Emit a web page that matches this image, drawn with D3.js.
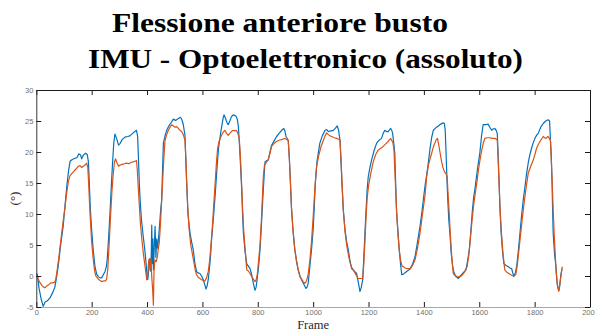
<!DOCTYPE html>
<html>
<head>
<meta charset="utf-8">
<script src="https://cdn.jsdelivr.net/npm/d3@7"></script>
<style>
  html, body { margin: 0; padding: 0; background: #fff; }
  svg { display: block; }
</style>
</head>
<body>
<svg id="chart" width="595" height="335"></svg>
<script>
// Titles and axis labels
const titleLines = ["Flessione anteriore busto", "IMU - Optoelettronico (assoluto)"];
const xLabel = "Frame";
const yLabel = "(°)";

// Tick values
const xTicks = [0, 200, 400, 600, 800, 1000, 1200, 1400, 1600, 1800, 2000];
const yTicks = [-5, 0, 5, 10, 15, 20, 25, 30];

// IMU trunk flexion angle, [frame, degrees]
const imuSeries = [
  [0,0.4],[4,0.2],[10,-2],[18,-3.8],[25,-4.9],[32,-4.2],[40,-4],[50,-3.5],[60,-2.6],[67,-1.8],
  [72,-0.5],[79,1.5],[88,5],[97,8],[104,11.5],[110,14.4],[116,16.8],[122,18.5],[130,18.8],[140,19.0],
  [147,19.1],[154,19.7],[160,19.5],[164,18.9],[170,19.5],[178,19.8],[184,19.6],[188,18.5],[191,15.5],[195,11],
  [200,7.4],[206,4],[212,1.5],[218,0.3],[224,-0.1],[230,-0.3],[236,-0.3],[242,0.2],[248,0.7],[253,1.5],
  [256,2.6],[261,6],[266,10],[271,14.5],[276,18.7],[280,21.5],[284,22.9],[290,22.2],[297,21.1],[303,21.4],
  [310,22.0],[320,22.4],[330,22.5],[338,22.6],[348,23],[356,23.3],[362,23.5],[366,22.5],[369,19],[372,15],
  [375,12.3],[380,9],[386,6.5],[392,4.2],[397,1.8],[401,-0.6],[403,-0.5],[407,1.5],[410,2.8],[413,0.8],
  [415,3],[417,8.2],[419,2],[421,6],[423,1],[426,4.5],[429,8],[432,3],[435,6],[438,4.5],
  [441,5.8],[445,8],[449,10.5],[453,12.3],[456,17],[459,21.4],[465,22.6],[471,23.5],[480,24.3],[488,24.8],
  [495,25.3],[503,25.1],[513,25.4],[521,25.6],[526,25.2],[531,24.4],[537,22.7],[540,19],[543,15],[548,10],
  [555,7],[561,5.5],[567,4.2],[573,2],[579,0.7],[585,0.5],[591,0.4],[597,0],[603,-0.6],[608,-1.3],
  [613,-2.1],[617,-1.6],[621,-0.6],[625,1],[629,3],[633,5.8],[640,9.5],[646,13],[652,17],[658,20.5],
  [664,22.5],[670,24.2],[675,25.5],[678,26],[683,25.5],[688,24.8],[693,24.4],[699,25],[705,25.7],[711,26],
  [716,25.9],[721,25.8],[726,25.3],[730,24.1],[734,21],[738,17.5],[742,13.9],[745,10],[748,6.9],[754,4],
  [760,2],[766,1.6],[772,1.2],[778,0.2],[784,-1.2],[790,-2.3],[794,-1.8],[798,-0.4],[803,1.5],[808,4.2],
  [813,8],[818,12.3],[822,15.5],[826,18.4],[832,18.6],[838,18.7],[844,20],[850,21.1],[859,21.8],[868,22.5],
  [877,23],[886,23.5],[894,23.8],[898,23.4],[902,22.5],[910,21.9],[914,19],[918,15],[922,10.6],[928,7],
  [934,4.2],[940,2.3],[946,1],[952,0.1],[958,-0.6],[966,-1.3],[974,-2],[978,-1.8],[982,-1.2],[988,1.5],
  [994,4.2],[1000,7.5],[1004,11],[1008,15],[1014,18.5],[1024,21.4],[1033,22.6],[1043,23.5],[1049,23.6],[1055,23.3],
  [1064,23.4],[1073,23.5],[1080,23.8],[1087,24.2],[1092,23.5],[1097,21.9],[1101,18],[1105,14],[1109,10.6],[1115,7.5],
  [1121,5.5],[1127,4.2],[1133,2.5],[1139,1.2],[1148,0.8],[1157,0.4],[1163,-1],[1169,-2.5],[1174,-1.8],[1179,-0.6],
  [1183,3],[1187,6.9],[1191,10.5],[1195,13.9],[1199,16],[1205,17.5],[1211,18.7],[1220,20.2],[1229,21.4],[1238,21.9],
  [1247,22.2],[1253,23],[1259,23.5],[1265,23.3],[1271,23.3],[1276,23.6],[1280,23.8],[1284,23.5],[1287,23],[1291,21.5],
  [1295,19.8],[1298,15],[1301,10.6],[1305,8],[1311,4.2],[1316,1.8],[1320,0.2],[1326,0.3],[1331,0.5],[1340,0.8],
  [1349,1.1],[1358,1.8],[1368,3.1],[1377,5.5],[1386,8],[1392,10],[1398,12.3],[1404,14.5],[1410,16.3],[1416,18.2],
  [1422,20.5],[1428,22.3],[1434,23.5],[1443,23.9],[1452,24.2],[1461,24.5],[1470,24.7],[1474,24.6],[1477,23.5],[1480,20],
  [1483,16],[1486,12.5],[1490,9],[1494,6.9],[1499,3.5],[1504,1.5],[1508,0.7],[1512,0.2],[1518,-0.1],[1524,-0.4],
  [1532,0],[1540,0.4],[1546,0.7],[1552,1],[1558,2.5],[1564,4.2],[1570,7.5],[1575,10.5],[1580,12.8],[1584,13.9],
  [1590,16],[1596,18],[1602,19.8],[1608,22.5],[1614,24.4],[1623,24.4],[1632,24.5],[1638,24],[1645,23.5],[1650,23.7],
  [1656,23.8],[1661,23.5],[1665,23],[1668,20],[1671,16],[1675,10.6],[1679,7],[1684,4],[1689,2],[1697,1.7],
  [1705,1.5],[1711,1.3],[1717,1.2],[1721,0.5],[1725,-0.1],[1730,0.5],[1735,1.5],[1741,4],[1747,6.9],[1753,9.8],
  [1759,12.3],[1765,14.4],[1771,16.5],[1777,18.3],[1783,19.6],[1789,20.6],[1795,21.5],[1801,22.2],[1807,22.7],[1813,23],
  [1822,24],[1831,24.6],[1840,25],[1849,25.2],[1854,25],[1857,22],[1860,19.5],[1863,15],[1865,10.6],[1867,6.9],
  [1872,3.5],[1877,1.5],[1880,-0.3],[1882,-1.5],[1885,-2],[1888,-2.3],[1891,-1.5],[1893,-0.6],[1896,0.5],[1899,1.2]
];

// Optoelectronic reference angle, [frame, degrees]
const optoSeries = [
  [0,0],[5,-0.3],[12,-1],[20,-1.5],[26,-1.8],[31,-1.9],[38,-1.6],[45,-1.4],[52,-1.1],[60,-1.1],
  [66,-1],[70,-0.6],[74,0.5],[80,2.5],[86,4.7],[92,7],[98,9.2],[104,11.2],[110,13.5],[116,15.3],
  [122,16.2],[128,16.5],[134,16.8],[140,17.1],[146,17.4],[152,17.7],[158,17.8],[164,17.5],[170,17.7],[176,17.9],
  [182,18.2],[186,17.5],[189,15],[192,12],[196,8.5],[200,5.5],[205,3],[210,1],[215,0],[222,-0.4],
  [229,-0.7],[236,-0.9],[243,-0.8],[250,-0.8],[254,-0.5],[258,1],[263,5],[268,9.5],[273,13.5],[278,16.5],
  [282,18.3],[286,18.9],[291,18.3],[297,17.7],[303,17.9],[310,18.0],[318,18.1],[326,18.2],[334,18.1],[342,18.3],
  [350,18.4],[356,18.5],[362,18.6],[365,17],[368,14.5],[372,11.5],[376,8.5],[381,6],[387,3.5],[393,1.5],
  [399,-0.6],[403,0.5],[406,2.6],[408,2.6],[411,1],[414,2.8],[417,-0.1],[420,-2],[423,-4.7],[425,0.5],
  [427,2],[429,2.6],[433,2.3],[437,3],[441,4.5],[444,5.3],[448,8],[452,11.5],[456,15],[460,18.5],
  [465,21.9],[471,22.8],[477,23.5],[483,24],[489,24.4],[495,24.2],[501,24],[507,24.1],[513,23.8],[519,23.5],
  [525,23.3],[531,22.8],[537,21.9],[540,19],[543,15.5],[547,11],[552,7.5],[558,5],[564,3.5],[570,2],
  [575,0.8],[579,0.2],[585,-0.2],[591,-0.4],[597,-0.6],[603,-0.7],[609,-0.8],[615,-0.3],[621,0.7],[626,2.5],
  [631,5],[636,8],[641,11.5],[646,15],[651,18.5],[655,20.6],[660,21.7],[669,22.7],[675,23.2],[681,23.5],
  [687,23],[693,22.7],[699,23],[705,23.3],[711,23.5],[717,23.4],[723,23.5],[728,23],[733,22.2],[737,19.5],
  [741,15.5],[745,11],[749,7.5],[754,4.5],[760,1],[766,0.8],[772,0.4],[778,-0.1],[784,-0.5],[790,-0.9],
  [794,-0.6],[798,0.2],[803,2.5],[808,5],[813,9],[817,13],[820,16],[824,17.8],[832,18.4],[838,18.8],
  [844,19.8],[850,20.9],[859,21.4],[868,21.7],[877,21.9],[886,22],[892,22.1],[898,22.2],[904,22],[910,21.9],
  [914,19],[918,15],[922,11],[927,7.5],[933,4.5],[940,2.5],[946,1],[952,-0.1],[958,-0.5],[964,-0.9],
  [970,-1.2],[976,-0.8],[982,0.2],[988,2.5],[994,5.5],[1000,9.5],[1006,14],[1012,17.5],[1019,19.2],[1028,20.8],
  [1037,21.9],[1043,22.6],[1049,23.1],[1055,22.8],[1061,22.6],[1067,22.5],[1076,22.3],[1085,22.2],[1091,22.1],[1097,21.9],
  [1101,18.5],[1105,14.5],[1109,10.6],[1115,7.2],[1121,5],[1127,3.5],[1133,2.2],[1139,1.4],[1145,1],[1151,0.5],
  [1157,0],[1163,-0.4],[1171,-0.4],[1179,-0.4],[1183,2],[1187,5.5],[1191,9.5],[1195,12.5],[1200,14.5],[1208,16.5],
  [1217,18.4],[1226,19.6],[1235,20.3],[1244,20.6],[1253,20.9],[1262,21.3],[1271,21.7],[1276,22],[1280,22.2],[1284,21.8],
  [1287,21.7],[1290,21],[1292,20.3],[1296,16],[1299,13],[1302,10],[1306,7],[1311,4.2],[1316,2.5],[1321,1.6],
  [1326,1.5],[1332,1.3],[1338,1.2],[1345,1.2],[1352,1.2],[1360,1.8],[1368,2.6],[1377,4.5],[1386,6.9],[1392,9],
  [1398,11],[1404,13],[1410,16],[1416,17.8],[1422,18.8],[1428,19.8],[1434,20.8],[1440,21.5],[1445,22],[1449,22.2],
  [1452,21.5],[1455,20.8],[1458,20],[1463,18.7],[1468,17.6],[1472,17.1],[1476,16.7],[1480,16.5],[1484,16],[1487,13.5],
  [1491,10.6],[1495,7],[1500,3.5],[1506,0.4],[1512,0.1],[1518,-0.2],[1527,-0.1],[1536,0],[1546,0.6],[1556,1.5],
  [1562,3.2],[1568,6],[1574,9],[1580,11.5],[1586,13.5],[1592,15.3],[1597,17.1],[1603,18.8],[1609,20.3],[1615,21.5],
  [1620,22.2],[1629,22.3],[1638,22.3],[1647,22.2],[1656,22.2],[1661,22.1],[1665,21.9],[1668,19],[1671,15.5],[1675,11],
  [1680,7],[1686,3.5],[1692,1],[1700,0.6],[1711,0.3],[1717,0.1],[1723,0],[1732,0.2],[1738,2],[1744,4.5],
  [1750,7],[1756,9.5],[1762,11.8],[1770,14.5],[1777,16.6],[1786,17.7],[1795,18.7],[1801,19.6],[1807,20.6],[1814,21.3],
  [1822,21.9],[1831,22.5],[1836,22.3],[1841,22.2],[1845,22.4],[1849,22.5],[1853,22.2],[1857,21.9],[1860,19],[1864,14.5],
  [1867,10.6],[1871,6.5],[1875,3],[1878,0.5],[1880,-0.6],[1884,-1.8],[1887,-2.5],[1889,-2],[1891,-1.2],[1895,0],
  [1900,1.5]
];

const svg = d3.select("#chart");
const plotLeft = 36.3, plotRight = 590, plotTop = 90, plotBottom = 307;

const x = d3.scaleLinear().domain([0, 2000]).range([plotLeft, plotRight]);
const y = d3.scaleLinear().domain([-5, 30]).range([plotBottom, plotTop]);

// Title, two lines of bold serif
const titleFont = "'Liberation Serif', 'Times New Roman', serif";
svg.append("text")
  .attr("x", 112).attr("y", 31.5)
  .attr("font-family", titleFont).attr("font-weight", "bold").attr("font-size", 28)
  .attr("textLength", 336).attr("lengthAdjust", "spacingAndGlyphs")
  .attr("fill", "#000")
  .text(titleLines[0]);
svg.append("text")
  .attr("x", 88).attr("y", 68)
  .attr("font-family", titleFont).attr("font-weight", "bold").attr("font-size", 28)
  .attr("textLength", 435).attr("lengthAdjust", "spacingAndGlyphs")
  .attr("fill", "#000")
  .text(titleLines[1]);

// Data lines
const line = d3.line().x(d => x(d[0])).y(d => y(d[1]));

svg.append("path")
  .datum(imuSeries)
  .attr("d", line)
  .attr("fill", "none")
  .attr("stroke", "#0072BD")
  .attr("stroke-width", 1.2)
  .attr("stroke-linejoin", "round");

svg.append("path")
  .datum(optoSeries)
  .attr("d", line)
  .attr("fill", "none")
  .attr("stroke", "#D95319")
  .attr("stroke-width", 1.2)
  .attr("stroke-linejoin", "round");

// Axes with inward ticks on all four sides
const tickFont = "'Liberation Sans', Arial, sans-serif";
function styleAxis(g, domainColor) {
  g.select(".domain").attr("stroke", domainColor).attr("stroke-width", 1);
  g.selectAll(".tick line").attr("stroke", "#1a1a1a").attr("stroke-width", 1);
  g.selectAll(".tick text")
    .attr("fill", "#707070")
    .attr("font-family", tickFont)
    .attr("font-size", 7.5);
}

svg.append("g")
  .attr("transform", `translate(0,${plotBottom})`)
  .call(d3.axisBottom(x).tickValues(xTicks).tickSize(-5).tickSizeOuter(0).tickPadding(3).tickFormat(d3.format("d")))
  .call(g => styleAxis(g, "#a8a8a8"));

svg.append("g")
  .attr("transform", `translate(0,${plotTop})`)
  .call(d3.axisTop(x).tickValues(xTicks).tickSize(-5).tickSizeOuter(0).tickFormat(""))
  .call(g => styleAxis(g, "#1a1a1a"));

svg.append("g")
  .attr("transform", `translate(${plotLeft},0)`)
  .call(d3.axisLeft(y).tickValues(yTicks).tickSize(-5).tickSizeOuter(0).tickPadding(3).tickFormat(d => d < 0 ? "-" + Math.abs(d) : d))
  .call(g => styleAxis(g, "#3a3a3a"));

svg.append("g")
  .attr("transform", `translate(${plotRight},0)`)
  .call(d3.axisRight(y).tickValues(yTicks).tickSize(-5).tickSizeOuter(0).tickFormat(""))
  .call(g => styleAxis(g, "#1a1a1a"));

// Axis labels
const labelFont = "'Liberation Serif', 'Times New Roman', serif";
svg.append("text")
  .attr("x", (plotLeft + plotRight) / 2).attr("y", 329)
  .attr("text-anchor", "middle")
  .attr("font-family", labelFont).attr("font-size", 12.5)
  .attr("fill", "#262626")
  .text(xLabel);

svg.append("text")
  .attr("transform", `translate(19,${(plotTop + plotBottom) / 2}) rotate(-90)`)
  .attr("text-anchor", "middle")
  .attr("font-family", labelFont).attr("font-size", 13)
  .attr("fill", "#262626")
  .text(yLabel);
</script>
</body>
</html>
